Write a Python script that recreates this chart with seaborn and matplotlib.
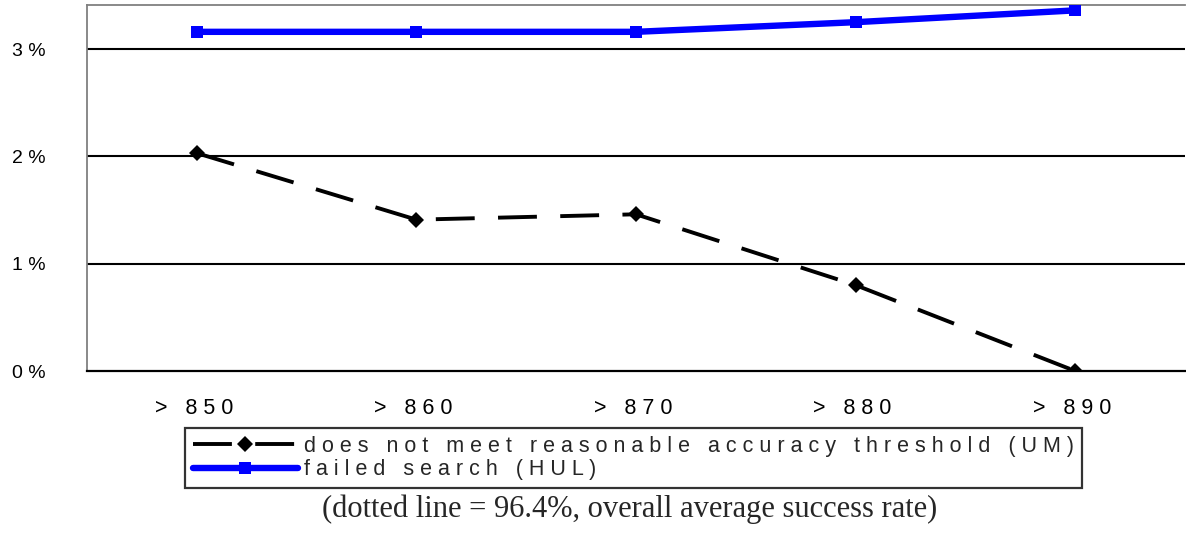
import matplotlib
matplotlib.use("Agg")
import matplotlib.pyplot as plt
import seaborn as sns
import numpy as np

categories = ["> 850", "> 860", "> 870", "> 880", "> 890"]
um_values = [2.03, 1.41, 1.46, 0.80, 0.00]        # does not meet reasonable accuracy threshold (UM), %
hul_values = [3.16, 3.16, 3.16, 3.25, 3.36]       # failed search (HUL), %
ytick_values = [0, 1, 2, 3]
ytick_labels = ["0 %", "1 %", "2 %", "3 %"]
label_um = "does not meet reasonable accuracy threshold (UM)"
label_hul = "failed search (HUL)"
caption = "(dotted line = 96.4%, overall average success rate)"


def spaced(s):
    return " ".join(s)


sns.set_style("white")
plt.rcParams["font.family"] = ["Liberation Sans", "DejaVu Sans"]

W, H = 1186, 534
fig = plt.figure(figsize=(W / 100, H / 100), dpi=100)
ax = fig.add_axes([87 / W, 1 - 371 / H, (1185 - 87) / W, (371 - 5) / H])

xlabels = [spaced(c) + " " for c in categories]
sns.lineplot(x=xlabels, y=um_values, ax=ax, color="black",
             lw=2.8, marker="D", markersize=8, markeredgewidth=0,
             label=spaced(label_um), sort=False, zorder=3)
ax.lines[-1].set_dashes([10, 6])
sns.lineplot(x=xlabels, y=hul_values, ax=ax, color="#0000FF",
             lw=4.6, marker="s", markersize=8.5, markeredgewidth=0,
             label=spaced(label_hul), sort=False, zorder=4)

ax.set_xlim(-0.5, len(categories) - 0.5)
ax.set_ylim(0, 3.41)
ax.set_yticks(ytick_values)
ax.set_yticklabels(ytick_labels)
ax.grid(False)
for v in ytick_values[1:]:
    ax.axhline(v, color="black", lw=1.5, zorder=1)

for side in ["left", "top"]:
    ax.spines[side].set_color("#808080")
    ax.spines[side].set_linewidth(1.3)
ax.spines["right"].set_visible(False)
ax.spines["bottom"].set_color("black")
ax.spines["bottom"].set_linewidth(1.6)

ax.tick_params(axis="y", length=0, pad=30, labelsize=14, colors="black")
ax.tick_params(axis="x", which="major", length=0, pad=19.5, labelsize=15.5, colors="black")
ax.set_xticks(np.arange(-0.5, len(categories), 1.0), minor=True)
ax.tick_params(axis="x", which="minor", length=4.5, width=1.5, direction="out", color="black")
ax.set_xlabel("")
ax.set_ylabel("")

handles, labels = ax.get_legend_handles_labels()
ax.get_legend().remove()
leg = fig.legend(handles, labels, loc="upper left",
                 bbox_to_anchor=(185 / W, 1 - 428 / H), borderaxespad=0,
                 fontsize=15.5, handlelength=4.9, handletextpad=0.3,
                 labelspacing=0.12, borderpad=0.35, frameon=True, fancybox=False)
leg.get_frame().set_edgecolor("black")
leg.get_frame().set_linewidth(1.6)

fig.text(630 / W, 1 - 509 / H, caption, ha="center", va="center",
         fontsize=22, family=["Liberation Serif", "DejaVu Serif"])

fig.savefig("out.png", dpi=100)
